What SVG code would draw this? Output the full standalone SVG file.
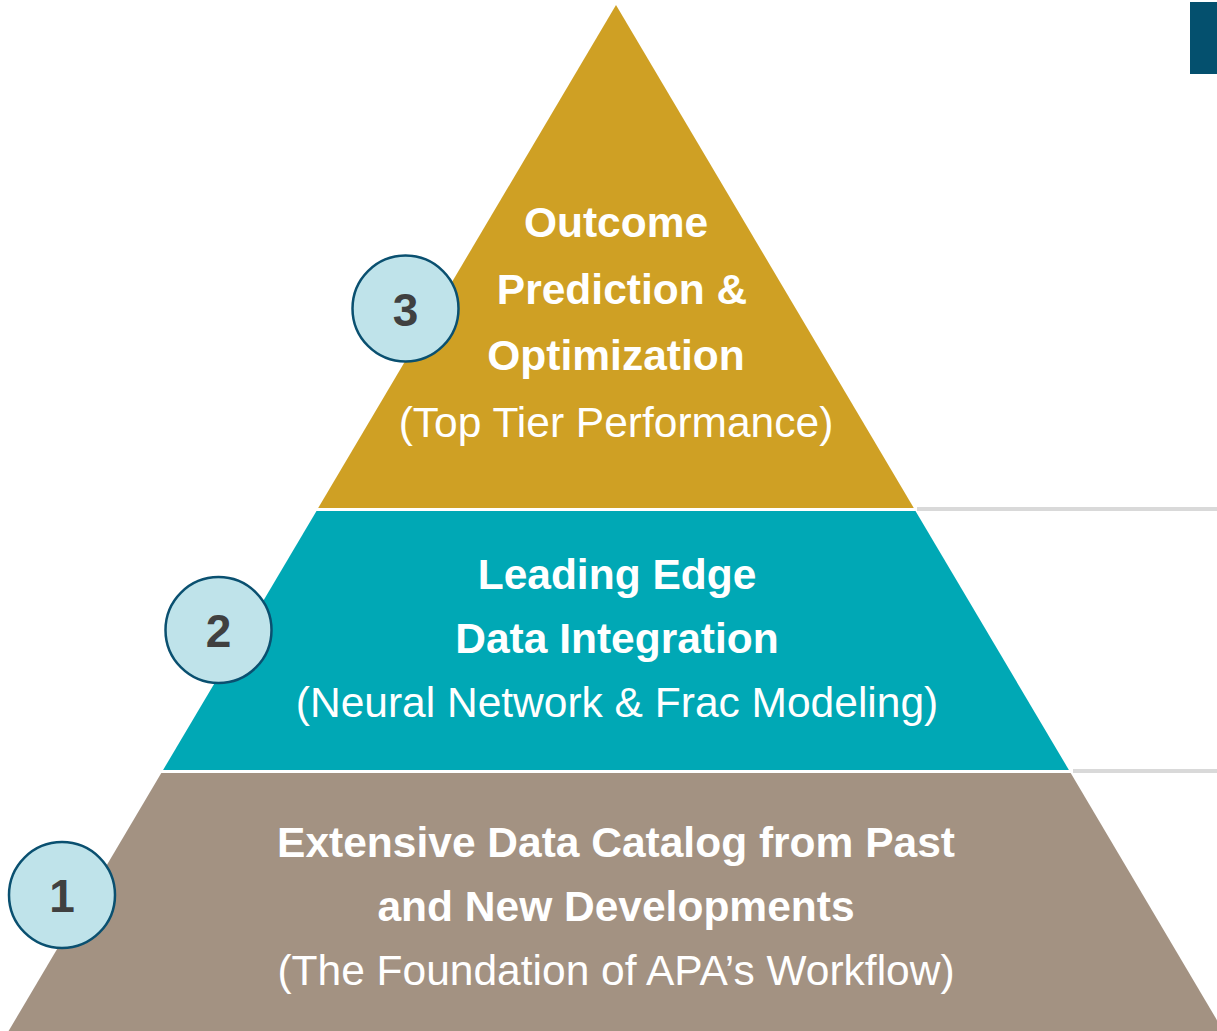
<svg xmlns="http://www.w3.org/2000/svg" width="1217" height="1031" viewBox="0 0 1217 1031">
<style>
.t{font-family:"Liberation Sans",Arial,sans-serif;fill:#fff;text-anchor:middle;font-size:42.5px}
.b{font-weight:bold}
.num{font-family:"Liberation Sans",Arial,sans-serif;font-weight:bold;font-size:46px;fill:#404040;text-anchor:middle}
.c{fill:#bfe3ea;stroke:#0a5070;stroke-width:2.5}
.rule{fill:#d9d9d9}
</style>
<rect width="1217" height="1031" fill="#fff"/>
<rect x="1190" y="2" width="27" height="72" fill="#04506e"/>
<g id="rules">
<rect class="rule" x="917" y="507" width="300" height="4"/>
<rect class="rule" x="1073" y="769" width="144" height="4"/>
</g>
<g id="tier3">
<polygon points="616,5 913.8,508 318.2,508" fill="#cfa024"/>
<text class="t b" x="616" y="237">Outcome</text>
<text class="t b" x="622" y="303.5">Prediction &amp;</text>
<text class="t b" x="616" y="370">Optimization</text>
<text class="t" x="616" y="437">(Top Tier Performance)</text>
</g>
<g id="tier2">
<polygon points="316.5,511 915.5,511 1068.9,770 163.1,770" fill="#00a8b5"/>
<text class="t b" x="617" y="589">Leading Edge</text>
<text class="t b" x="617" y="653">Data Integration</text>
<text class="t" x="617" y="717">(Neural Network &amp; Frac Modeling)</text>
</g>
<g id="tier1">
<polygon points="161.3,773 1070.7,773 1223.4,1031 8.6,1031" fill="#a39282"/>
<text class="t b" x="616" y="857">Extensive Data Catalog from Past</text>
<text class="t b" x="616" y="921">and New Developments</text>
<text class="t" x="616" y="985">(The Foundation of APA’s Workflow)</text>
</g>
<g id="badge3">
<circle class="c" cx="405.5" cy="308.5" r="53"/>
<text class="num" x="405.5" y="326">3</text>
</g>
<g id="badge2">
<circle class="c" cx="218.5" cy="630" r="53"/>
<text class="num" x="218.5" y="647">2</text>
</g>
<g id="badge1">
<circle class="c" cx="62" cy="895" r="53"/>
<text class="num" x="62" y="912">1</text>
</g>
</svg>
